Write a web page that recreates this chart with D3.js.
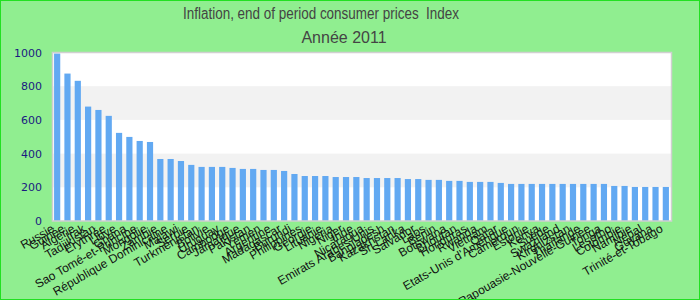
<!DOCTYPE html>
<html>
<head>
<meta charset="utf-8">
<script src="https://cdn.jsdelivr.net/npm/d3@7"></script>
<style>
body{margin:0;padding:0}
#chart{width:698px;height:298px;background:#90ee90;border:1px solid #22e022}
</style>
</head>
<body>
<div id="chart"></div>
<script>
var title1 = "Inflation, end of period consumer prices  Index"
var title2 = "Année 2011"
var countries = ["Russie","Guinée","Algérie","Irak","Tadjikistan","Erythrée","Libye","Ghana",
    "Sao Tomé-et-Principe","Mongolie","Zambie","République Dominicaine","Malawi","Serbie",
    "Turkménistan","Bolivie","Uruguay","Cambodge","Jamaïque","Pakistan","Yémen","Argentine",
    "Madagascar","Burundi","Philippines","Géorgie","Lituanie","Nigeria","Niger","Inde",
    "Nicaragua","Emirats Arabes Unis","Bangladesh","Kazakhstan","Sri Lanka","Salvador","Laos",
    "Bénin","Botswana","Bhoutan","Honduras","Rwanda","Vietnam","Qatar","Etats-Unis d'Amérique",
    "Cameroun","Estonie","Kenya","Suède","Swaziland","Kirghizstan","Thaïlande","Papouasie-Nouvelle-Guinée",
    "Tonga","Lesotho","Colombie","Namibie","Népal","Guyana","Trinité-et-Tobago"]
var values = [994,875,832,679,659,624,523,499,475,469,368,368,356,333,321,321,321,315,309,309,
    303,303,297,279,267,267,267,261,261,261,255,255,255,255,249,249,244,244,238,238,
    232,232,232,226,220,220,220,220,220,220,220,220,220,220,208,208,202,202,202,202]
var yTicks = [0,200,400,600,800,1000]

drawChart()

function drawChart(){
    var w = 698
    var h = 298
    var left = 51
    var right = 670
    var top = 51.5
    var bottom = 220

    var svg = d3.select("#chart").append("svg").attr("width",w).attr("height",h)
        .style("font-family","'Liberation Sans', Arial, sans-serif")

    svg.append("text").text(title1).attr("x",320).attr("y",18)
        .attr("text-anchor","middle").attr("font-size","16px").attr("fill","#444")
        .attr("textLength",276).attr("lengthAdjust","spacingAndGlyphs")
        .style("white-space","pre")
    svg.append("text").text(title2).attr("x",343).attr("y",42)
        .attr("text-anchor","middle").attr("font-size","16px").attr("fill","#444")

    var xScale = d3.scaleBand().domain(countries).range([left,right])
        .paddingInner(0.4).paddingOuter(0.2)
    var yScale = d3.scaleLinear().domain([0,1000]).range([bottom,top])

    // plot background with alternate bands
    svg.append("rect").attr("x",left).attr("y",top).attr("width",right-left).attr("height",bottom-top)
        .attr("fill","#ffffff")
    var bands = [[200,400],[600,800]]
    svg.selectAll(".band")
        .data(bands)
        .enter()
        .append("rect")
        .attr("class","band")
        .attr("x",left)
        .attr("width",right-left)
        .attr("y",function(d){return yScale(d[1])})
        .attr("height",function(d){return yScale(d[0])-yScale(d[1])})
        .attr("fill","#f2f2f2")

    svg.selectAll(".bar")
        .data(values)
        .enter()
        .append("rect")
        .attr("class","bar")
        .attr("x",function(d,i){return xScale(countries[i])})
        .attr("width",xScale.bandwidth())
        .attr("y",function(d){return yScale(d)})
        .attr("height",function(d){return bottom-yScale(d)})
        .attr("fill","#62a9f2")

    svg.append("rect").attr("x",left+0.5).attr("y",top).attr("width",right-left).attr("height",bottom-top)
        .attr("fill","none").attr("stroke","#d0d0d0").attr("stroke-width",1.5)

    var yAxis = svg.append("g").attr("transform","translate("+(left-10)+",0)")
        .call(d3.axisLeft(yScale).tickValues(yTicks).tickFormat(d3.format("d")).tickSize(0).tickPadding(0))
    yAxis.select(".domain").remove()
    yAxis.selectAll("text").attr("font-size","11px").attr("fill","#1a1a80")
        .style("font-family","'DejaVu Sans', sans-serif")

    svg.selectAll(".xlabel")
        .data(countries)
        .enter()
        .append("text")
        .attr("class","xlabel")
        .attr("text-anchor","end")
        .attr("font-size","12px")
        .attr("fill","#111")
        .attr("transform",function(d){
            var cx = xScale(d)+xScale.bandwidth()/2-2
            return "translate("+cx+",230) rotate(-30)"
        })
        .text(function(d){return d})
}
</script>
</body>
</html>
